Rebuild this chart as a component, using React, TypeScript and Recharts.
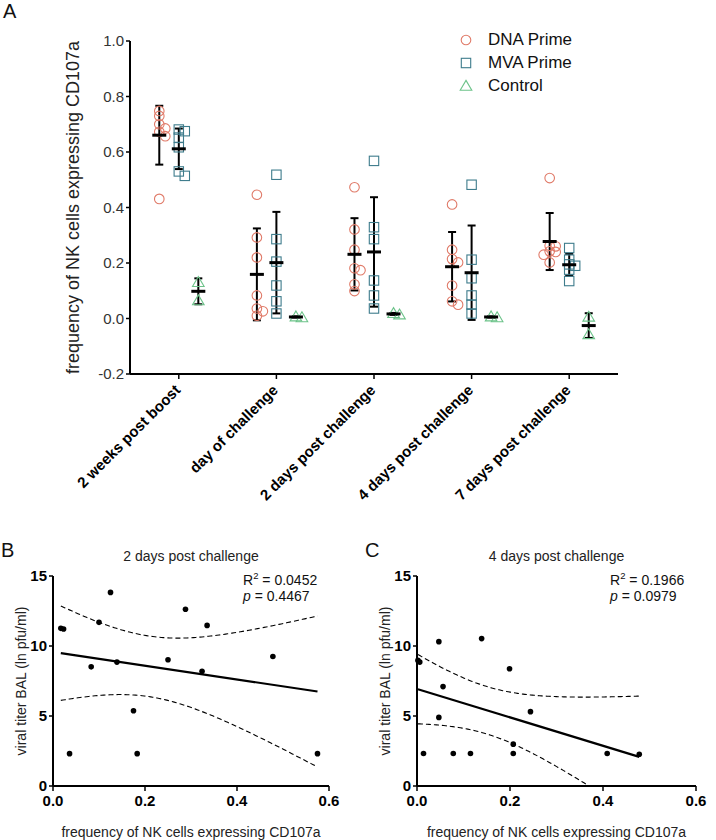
import React from "react";
import { ScatterChart, Scatter, XAxis, YAxis, ErrorBar } from "recharts";

const FONT = '"Liberation Sans", Arial, Helvetica, sans-serif';

// ---- panel A: CD107a+ NK cell frequency per time point ----
const CATEGORIES = [
  "2 weeks post boost",
  "day of challenge",
  "2 days post challenge",
  "4 days post challenge",
  "7 days post challenge",
];

const DNA_PRIME = [
  [0.748, 0.73, 0.7, 0.685, 0.673, 0.657, 0.431],
  [0.446, 0.292, 0.22, 0.083, 0.036, 0.026, 0.01],
  [0.473, 0.321, 0.248, 0.181, 0.174, 0.123, 0.099],
  [0.411, 0.248, 0.214, 0.202, 0.119, 0.062, 0.05],
  [0.506, 0.262, 0.26, 0.242, 0.24, 0.23, 0.202],
];

const MVA_PRIME = [
  [0.681, 0.675, 0.652, 0.617, 0.53, 0.514],
  [0.518, 0.286, 0.205, 0.119, 0.062, 0.018],
  [0.568, 0.329, 0.286, 0.137, 0.083, 0.036],
  [0.482, 0.212, 0.145, 0.083, 0.05, 0.018],
  [0.254, 0.212, 0.195, 0.19, 0.176, 0.135],
];

const CONTROL = [
  [0.131, 0.065],
  [0.004, 0.007],
  [0.014, 0.019],
  [0.004, 0.007],
  [0.006, -0.057],
];

// ---- panels B / C: viral titer vs CD107a frequency ----
const B_FREQ = [0.017, 0.023, 0.036, 0.083, 0.1, 0.125, 0.139, 0.175, 0.183, 0.25, 0.288, 0.324, 0.335, 0.478, 0.575];
const B_TITER = [11.26, 11.21, 2.31, 8.51, 11.69, 13.83, 8.85, 5.37, 2.31, 9.02, 12.62, 8.2, 11.47, 9.25, 2.31];

const C_FREQ = [0.002, 0.006, 0.014, 0.047, 0.047, 0.056, 0.078, 0.115, 0.139, 0.199, 0.207, 0.207, 0.244, 0.409, 0.478];
const C_TITER = [8.97, 8.85, 2.32, 10.31, 4.9, 7.1, 2.32, 2.32, 10.53, 8.37, 2.99, 2.32, 5.31, 2.32, 2.27];

const GROUPS = [
  { name: "DNA Prime", values: DNA_PRIME, color: "#E07A68", kind: "circle", shift: -0.2 },
  { name: "MVA Prime", values: MVA_PRIME, color: "#3E7C8C", kind: "square", shift: 0 },
  { name: "Control", values: CONTROL, color: "#6DC38A", kind: "triangle", shift: 0.2 },
];

// approx px per unit, only used to spread overlapping markers
const PX_PER_Y = 277.5;
const PX_PER_X = 97.6;

function mean(a: number[]) {
  return a.reduce((s, v) => s + v, 0) / a.length;
}

function sd(a: number[]) {
  const m = mean(a);
  return Math.sqrt(a.reduce((s, v) => s + (v - m) * (v - m), 0) / (a.length - 1));
}

// simple beeswarm: push a marker sideways when it sits on top of another
function swarm(vals: number[]) {
  const order = vals.map((_, i) => i).sort((a, b) => vals[b] - vals[a]);
  const placed: { ox: number; py: number }[] = [];
  const offs = vals.map(() => 0);
  for (const i of order) {
    const py = vals[i] * PX_PER_Y;
    for (let k = 0; k < 12; k++) {
      const ox = (k % 2 === 1 ? 1 : -1) * Math.ceil(k / 2) * 6;
      if (placed.every((p) => Math.hypot(p.ox - ox, p.py - py) >= 4.5)) {
        offs[i] = ox;
        placed.push({ ox, py });
        break;
      }
    }
  }
  return offs.map((o) => o / PX_PER_X);
}

function Marker({ kind, cx, cy, color }: any) {
  if (cx == null || cy == null) return <g />;
  if (kind === "circle")
    return <circle cx={cx} cy={cy} r={4.8} fill="none" stroke={color} strokeWidth={1.1} />;
  if (kind === "square")
    return <rect x={cx - 4.7} y={cy - 4.7} width={9.4} height={9.4} fill="none" stroke={color} strokeWidth={1.1} />;
  return (
    <path
      d={`M${cx},${cy - 5.6}L${cx + 5.8},${cy + 4.3}L${cx - 5.8},${cy + 4.3}Z`}
      fill="none"
      stroke={color}
      strokeWidth={1.1}
    />
  );
}

function MeanBar({ cx, cy }: any) {
  if (cx == null || cy == null) return <g />;
  return <line x1={cx - 7} x2={cx + 7} y1={cy} y2={cy} stroke="#000" strokeWidth={3} />;
}

function CategoryTick({ x, y, payload }: any) {
  const ax = x + 2.5;
  const ay = y + 10;
  return (
    <text
      x={ax}
      y={ay}
      transform={`rotate(-45, ${ax}, ${ay})`}
      textAnchor="end"
      fontSize={15}
      fontWeight="bold"
      fill="#000"
      fontFamily={FONT}
    >
      {CATEGORIES[payload.value]}
    </text>
  );
}

function PanelA() {
  const series = GROUPS.map((g) => {
    const points = g.values.flatMap((vals, ci) => {
      const offs = swarm(vals);
      return vals.map((v, k) => ({ x: ci + g.shift + offs[k], y: v }));
    });
    const summary = g.values.map((vals, ci) => ({
      x: ci + g.shift,
      y: mean(vals),
      sd: sd(vals),
    }));
    return { ...g, points, summary };
  });

  return (
    <div style={{ position: "absolute", left: 0, top: 0 }}>
      <ScatterChart
        width={716}
        height={520}
        margin={{ top: 41, right: 98, bottom: 0, left: 0 }}
        style={{ fontFamily: FONT }}
      >
        <XAxis
          type="number"
          dataKey="x"
          domain={[-0.5, 4.5]}
          ticks={[0, 1, 2, 3, 4]}
          interval={0}
          height={146}
          axisLine={{ stroke: "#000", strokeWidth: 2 }}
          tickLine={{ stroke: "#000", strokeWidth: 1.5 }}
          tickSize={5}
          tick={(p: any) => <CategoryTick {...p} />}
        />
        <YAxis
          type="number"
          dataKey="y"
          domain={[-0.2, 1]}
          ticks={[-0.2, 0, 0.2, 0.4, 0.6, 0.8, 1]}
          width={130}
          tickFormatter={(v: any) => Number(v).toFixed(1)}
          axisLine={{ stroke: "#000", strokeWidth: 2 }}
          tickLine={{ stroke: "#000", strokeWidth: 1.5 }}
          tickSize={4}
          tick={{ fontSize: 15, fill: "#333" }}
          label={{
            value: "frequency of NK cells expressing CD107a",
            angle: -90,
            position: "center",
            dx: 8,
            style: { fontSize: 18, fill: "#222", textAnchor: "middle" },
          }}
        />
        {series.map((s) => (
          <Scatter
            key={s.name}
            name={s.name}
            data={s.points}
            isAnimationActive={false}
            shape={(p: any) => <Marker kind={s.kind} color={s.color} cx={p.cx} cy={p.cy} />}
          />
        ))}
        {series.map((s) => (
          <Scatter
            key={s.name + "-mean"}
            data={s.summary}
            isAnimationActive={false}
            shape={(p: any) => <MeanBar cx={p.cx} cy={p.cy} />}
          >
            <ErrorBar dataKey="sd" direction="y" width={4} stroke="#000" strokeWidth={2} />
          </Scatter>
        ))}
      </ScatterChart>

      <div style={{ position: "absolute", left: 458, top: 28, fontFamily: FONT, fontSize: 17, color: "#111" }}>
        {GROUPS.map((g) => (
          <div key={g.name} style={{ display: "flex", alignItems: "center", height: 23.3 }}>
            <svg width={16} height={16} style={{ marginRight: 14 }}>
              <Marker kind={g.kind} color={g.color} cx={8} cy={8} />
            </svg>
            <span>{g.name}</span>
          </div>
        ))}
      </div>

      <div style={{ position: "absolute", left: 3, top: 0, fontFamily: FONT, fontSize: 20, color: "#111" }}>A</div>
    </div>
  );
}

// 97.5% t quantiles for the 95% confidence band
const T_975: Record<number, number> = { 10: 2.228, 11: 2.201, 12: 2.179, 13: 2.16, 14: 2.145, 15: 2.131 };

function regression(xs: number[], ys: number[]) {
  const n = xs.length;
  const mx = mean(xs);
  const my = mean(ys);
  let sxx = 0;
  let sxy = 0;
  let syy = 0;
  xs.forEach((x, i) => {
    sxx += (x - mx) * (x - mx);
    sxy += (x - mx) * (ys[i] - my);
    syy += (ys[i] - my) * (ys[i] - my);
  });
  const b = sxy / sxx;
  const a = my - b * mx;
  const s = Math.sqrt((syy - b * sxy) / (n - 2));
  const t = T_975[n - 2] || 2.16;
  const lo = Math.min(...xs);
  const hi = Math.max(...xs);

  const line = [
    { x: lo, y: a + b * lo },
    { x: hi, y: a + b * hi },
  ];
  const upper: { x: number; y: number }[] = [];
  const lower: { x: number; y: number }[] = [];
  const steps = 120;
  let lowerDone = false;
  for (let k = 0; k <= steps; k++) {
    const x = lo + ((hi - lo) * k) / steps;
    const fit = a + b * x;
    const half = t * s * Math.sqrt(1 / n + ((x - mx) * (x - mx)) / sxx);
    upper.push({ x, y: fit + half });
    if (!lowerDone) {
      const y = fit - half;
      if (y >= 0) {
        lower.push({ x, y });
      } else {
        // stop the band where it leaves the plot (y = 0)
        const prev = lower[lower.length - 1];
        if (prev) {
          const f = prev.y / (prev.y - y);
          lower.push({ x: prev.x + (x - prev.x) * f, y: 0 });
        }
        lowerDone = true;
      }
    }
  }
  return { line, upper, lower };
}

function Dot({ cx, cy }: any) {
  if (cx == null || cy == null) return <g />;
  return <circle cx={cx} cy={cy} r={2.8} fill="#000" />;
}

const Empty = () => <g />;

function RegressionPanel({
  left,
  plotWidth,
  letter,
  title,
  freq,
  titer,
  r2,
  p,
}: {
  left: number;
  plotWidth: number;
  letter: string;
  title: string;
  freq: number[];
  titer: number[];
  r2: string;
  p: string;
}) {
  const pts = freq.map((x, i) => ({ x, y: titer[i] }));
  const { line, upper, lower } = regression(freq, titer);
  const width = 53 + plotWidth + 24;

  return (
    <div style={{ position: "absolute", left, top: 540, width, height: 300 }}>
      <ScatterChart
        width={width}
        height={300}
        margin={{ top: 36, right: 24, bottom: 0, left: 0 }}
        style={{ fontFamily: FONT }}
      >
        <XAxis
          type="number"
          dataKey="x"
          domain={[0, 0.6]}
          ticks={[0, 0.2, 0.4, 0.6]}
          interval={0}
          height={54}
          tickFormatter={(v: any) => Number(v).toFixed(1)}
          axisLine={{ stroke: "#000", strokeWidth: 2 }}
          tickLine={{ stroke: "#000", strokeWidth: 1.5 }}
          tickSize={5}
          tickMargin={4}
          tick={{ fontSize: 15, fontWeight: "bold", fill: "#000" }}
          label={{
            value: "frequency of NK cells expressing CD107a",
            position: "insideBottom",
            offset: 3,
            style: { fontSize: 14, fill: "#222" },
          }}
        />
        <YAxis
          type="number"
          dataKey="y"
          domain={[0, 15]}
          ticks={[0, 5, 10, 15]}
          width={53}
          axisLine={{ stroke: "#000", strokeWidth: 2 }}
          tickLine={{ stroke: "#000", strokeWidth: 1.5 }}
          tickSize={4}
          tick={{ fontSize: 15, fontWeight: "bold", fill: "#000" }}
          label={{
            value: "viral titer BAL (ln pfu/ml)",
            angle: -90,
            position: "center",
            dx: -5,
            style: { fontSize: 14, fill: "#222", textAnchor: "middle" },
          }}
        />
        <Scatter
          data={upper}
          isAnimationActive={false}
          shape={Empty}
          line={{ stroke: "#000", strokeWidth: 1.1, strokeDasharray: "5 3" }}
        />
        <Scatter
          data={lower}
          isAnimationActive={false}
          shape={Empty}
          line={{ stroke: "#000", strokeWidth: 1.1, strokeDasharray: "5 3" }}
        />
        <Scatter data={line} isAnimationActive={false} shape={Empty} line={{ stroke: "#000", strokeWidth: 2.2 }} />
        <Scatter data={pts} isAnimationActive={false} shape={(q: any) => <Dot cx={q.cx} cy={q.cy} />} />
      </ScatterChart>

      <div
        style={{
          position: "absolute",
          left: 53,
          width: plotWidth,
          top: 8,
          textAlign: "center",
          fontFamily: FONT,
          fontSize: 14,
          color: "#222",
        }}
      >
        {title}
      </div>
      <div style={{ position: "absolute", left: 1, top: -1, fontFamily: FONT, fontSize: 20, color: "#111" }}>
        {letter}
      </div>
      <div
        style={{
          position: "absolute",
          left: 53 + plotWidth - 86,
          top: 32,
          fontFamily: FONT,
          fontSize: 14,
          lineHeight: "16px",
          color: "#111",
        }}
      >
        <div>
          R<sup style={{ fontSize: 9.5, lineHeight: 0, verticalAlign: "6px" }}>2</sup> = {r2}
        </div>
        <div>
          <i>p</i> = {p}
        </div>
      </div>
    </div>
  );
}

export default function App() {
  return (
    <div
      style={{
        position: "absolute",
        left: 0,
        top: 0,
        width: 716,
        height: 840,
        background: "#fff",
        fontFamily: FONT,
      }}
    >
      <PanelA />
      <RegressionPanel
        left={0}
        plotWidth={276}
        letter="B"
        title="2 days post challenge"
        freq={B_FREQ}
        titer={B_TITER}
        r2="0.0452"
        p="0.4467"
      />
      <RegressionPanel
        left={364}
        plotWidth={279}
        letter="C"
        title="4 days post challenge"
        freq={C_FREQ}
        titer={C_TITER}
        r2="0.1966"
        p="0.0979"
      />
    </div>
  );
}
